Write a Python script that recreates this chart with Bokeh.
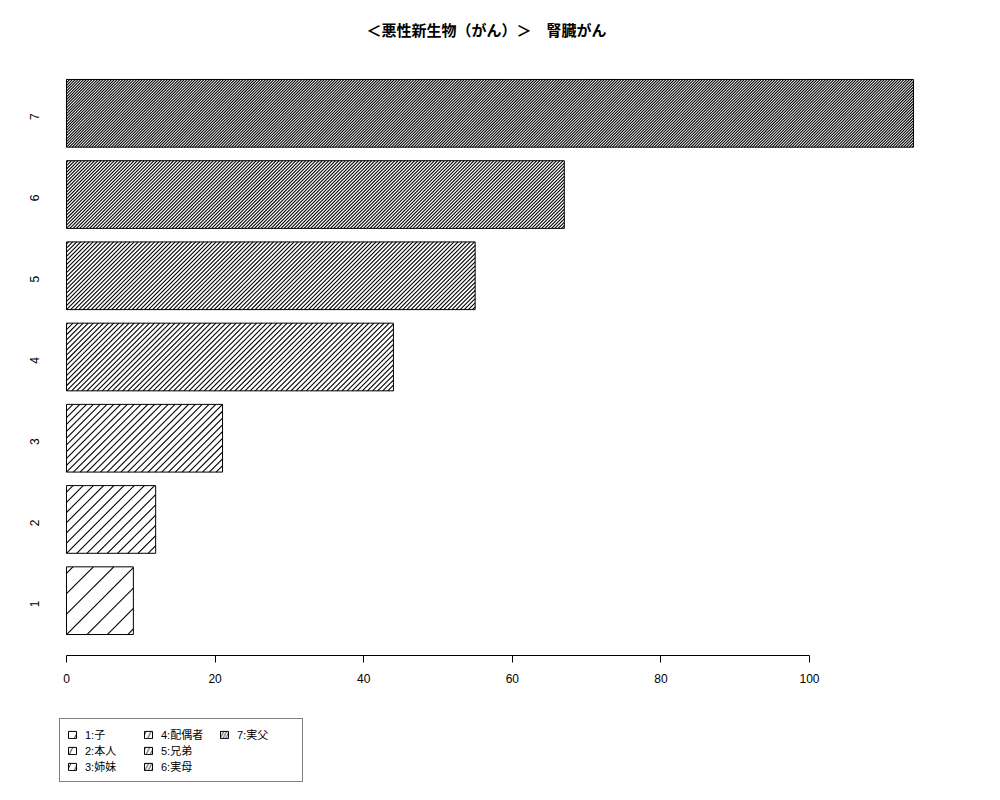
import math
from bokeh.plotting import figure
from bokeh.layouts import column
from bokeh.models import (ColumnDataSource, Range1d, Legend, LegendItem, FixedTicker)
from bokeh.embed import file_html
from bokeh.resources import INLINE

# ---- data ----
categories = ["1", "2", "3", "4", "5", "6", "7"]
values = [9, 12, 21, 44, 55, 67, 114]
legend_labels = ["1:子", "2:本人", "3:姉妹", "4:配偶者", "5:兄弟", "6:実母", "7:実父"]
x_ticks = [0, 20, 40, 60, 80, 100]
title_text = "＜悪性新生物（がん）＞　腎臓がん"

# ---- styles / layout ----
hatch_px = [20.4, 10.2, 6.8, 5.1, 4.1, 3.3, 2.8]   # horizontal spacing of 45° hatch lines
FONT = "'Liberation Sans', 'Noto Sans CJK JP', sans-serif"
BAR_H = 1 / 1.2
X0, X1 = -1.346, 114.4
Y0, Y1 = 0.325, 7.675
FRAME_W, FRAME_H = 860, 597

ypos = [i + 1 for i in range(len(categories))]
xppu = FRAME_W / (X1 - X0)
yppu = FRAME_H / (Y1 - Y0)
kx = yppu / xppu  # x-data units per y-data unit along a 45° screen line

# hatch segments derived from each bar's extent
hx0, hy0, hx1, hy1 = [], [], [], []
for yc, v, sp in zip(ypos, values, hatch_px):
    yb = yc - BAR_H / 2
    H = BAR_H * kx
    s = sp / xppu
    for j in range(math.floor(-H / s), math.ceil(v / s) + 1):
        c = j * s
        lo, hi = max(c, 0.0), min(c + H, float(v))
        if hi <= lo:
            continue
        hx0.append(lo); hy0.append(yb + (lo - c) / kx)
        hx1.append(hi); hy1.append(yb + (hi - c) / kx)

source = ColumnDataSource(dict(y=ypos, val=values, cat=categories, lab=legend_labels,
                               hs=[2 * h for h in hatch_px]))
hatch_src = ColumnDataSource(dict(x0=hx0, y0=hy0, x1=hx1, y1=hy1))

p = figure(width=992, height=700, output_backend="svg", toolbar_location=None,
           y_range=Range1d(Y0, Y1), x_range=Range1d(X0, X1),
           min_border_left=56, min_border_right=992 - 56 - FRAME_W,
           min_border_top=58, min_border_bottom=700 - 58 - FRAME_H)

p.hbar(y="y", right="val", left=0, height=BAR_H, source=source,
       fill_color="white", line_color=None)
p.segment(x0="x0", y0="y0", x1="x1", y1="y1", source=hatch_src,
          line_color="black", line_width=1.1)
p.hbar(y="y", right="val", left=0, height=BAR_H, source=source,
       fill_color=None, line_color="black", line_width=1)

p.title.text = title_text
p.title.align = "center"
p.title.text_font = FONT
p.title.text_font_size = "15px"
p.title.text_font_style = "bold"
p.title.text_color = "black"
p.title.standoff = 39

p.xgrid.visible = False
p.ygrid.visible = False
p.outline_line_color = None

xa = p.xaxis[0]
xa.bounds = (0, 100)
xa.ticker = FixedTicker(ticks=x_ticks)
xa.minor_tick_line_color = None
xa.major_tick_in = 0
xa.major_tick_out = 7
xa.axis_line_color = "black"
xa.major_tick_line_color = "black"
xa.major_label_text_font = FONT
xa.major_label_text_font_size = "12px"
xa.major_label_text_color = "black"
xa.major_label_standoff = 11

ya = p.yaxis[0]
ya.ticker = FixedTicker(ticks=ypos)
ya.major_label_overrides = {yv: c for yv, c in zip(ypos, categories)}
ya.axis_line_color = None
ya.major_tick_line_color = None
ya.minor_tick_line_color = None
ya.major_label_orientation = math.pi / 2
ya.major_label_text_font = FONT
ya.major_label_text_font_size = "12px"
ya.major_label_text_color = "black"
ya.major_label_standoff = 16

# ---- legend panel (second figure; its renderer is hidden, only legend glyphs show) ----
p2 = figure(width=992, height=92, output_backend="svg", toolbar_location=None,
            x_range=Range1d(0, 1), y_range=Range1d(0, 1), min_border=0)
p2.axis.visible = False
p2.grid.visible = False
p2.outline_line_color = None
r2 = p2.hbar(y="y", right="val", left=0, height=BAR_H, source=source,
             fill_color="white", line_color="black", line_width=1,
             hatch_pattern="/", hatch_scale="hs", hatch_color="black", hatch_weight=0.8)
r2.visible = False

items = [LegendItem(label=legend_labels[i], renderers=[r2], index=i)
         for i in range(len(legend_labels))]
legend = Legend(items=items, location=(3, 10), nrows=3,
                orientation="vertical",
                label_text_font=FONT, label_text_font_size="11px",
                label_text_color="black", label_text_line_height=1.0,
                label_height=14, label_width=58, glyph_height=9, glyph_width=10,
                label_standoff=8, spacing=0, padding=7, margin=0,
                border_line_color="black", border_line_width=1,
                background_fill_color="white", background_fill_alpha=1)
p2.add_layout(legend, "center")

open("out.html", "w").write(file_html(column(p, p2, spacing=0), INLINE))
